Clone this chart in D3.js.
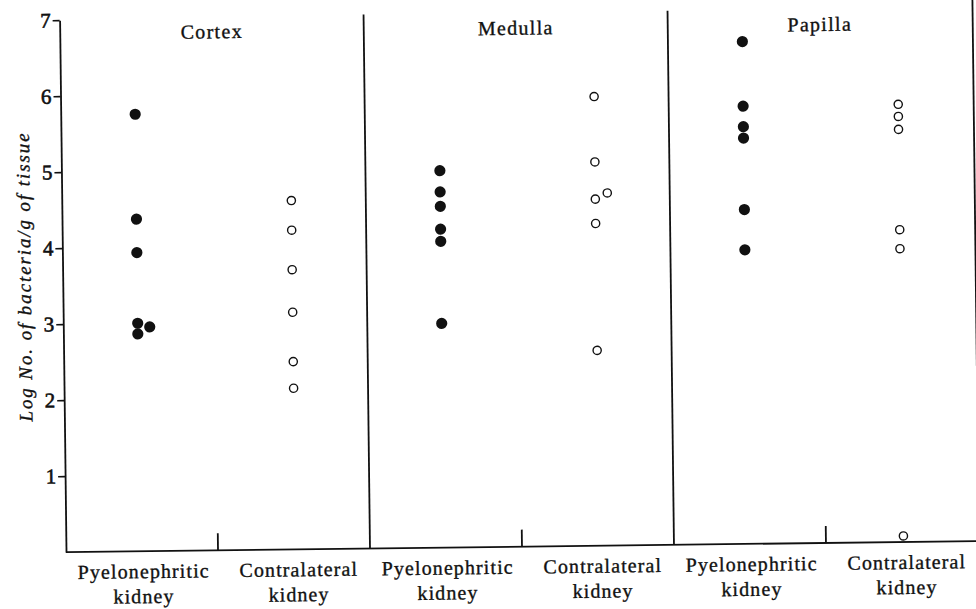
<!DOCTYPE html>
<html>
<head>
<meta charset="utf-8">
<script src="https://d3js.org/d3.v7.min.js"></script>
<style>
  body { margin: 0; background: #fff; }
  text { font-family: "Liberation Serif", "Times New Roman", serif; fill: #111; stroke: #111; stroke-width: 0.35px; }
</style>
</head>
<body>
<div id="my_dataviz"></div>
<script>
// regions / groups / ticks
var regions = ["Cortex", "Medulla", "Papilla"];
var groups = ["Pyelonephritic", "Contralateral"];
var yTicks = [1, 2, 3, 4, 5, 6, 7];

// log no. of bacteria per g of tissue
var cortexPyelo   = [5.75, 4.37, 3.93, 3.00, 2.86, 2.95];
var cortexContra  = [4.59, 4.20, 3.68, 3.12, 2.47, 2.12];
var medullaPyelo  = [4.96, 4.68, 4.49, 4.19, 4.03, 2.95];
var medullaContra = [5.91, 5.05, 4.56, 4.64, 4.24, 2.57];
var papillaPyelo  = [6.61, 5.76, 5.49, 5.34, 4.40, 3.87];
var papillaContra = [5.76, 5.60, 5.43, 4.11, 3.86, 0.08];

// points that sit beside their neighbour instead of on top of it
var cortexPyeloDodge   = [0, 0, 0, 0, 0, 1];
var medullaContraDodge = [0, 0, 0, 1, 0, 0];

var series = [
  {region: "Cortex",  group: "Pyelonephritic", values: cortexPyelo,   dodge: cortexPyeloDodge},
  {region: "Cortex",  group: "Contralateral",  values: cortexContra},
  {region: "Medulla", group: "Pyelonephritic", values: medullaPyelo},
  {region: "Medulla", group: "Contralateral",  values: medullaContra, dodge: medullaContraDodge},
  {region: "Papilla", group: "Pyelonephritic", values: papillaPyelo},
  {region: "Papilla", group: "Contralateral",  values: papillaContra}
];

var points = [];
series.forEach(function(s) {
  s.values.forEach(function(v, i) {
    points.push({region: s.region, group: s.group, value: v, dodge: s.dodge ? s.dodge[i] : 0});
  });
});

var width = 976, height = 609;

var svg = d3.select("#my_dataviz")
  .append("svg")
    .attr("width", width)
    .attr("height", height)
  // the printed page is scanned a little askew
  .append("g")
    .attr("transform", "rotate(-0.69, 490, 300)");

var x = d3.scaleBand()
  .domain(regions)
  .range([63, 975]);

var xGroup = d3.scalePoint()
  .domain(groups)
  .range([0, x.bandwidth()])
  .padding(0.48);

var y = d3.scaleLinear()
  .domain([0, 7])
  .range([547, 15]);

var ink = "#111";

// Y axis
var yAxis = svg.append("g")
  .attr("transform", "translate(" + x.range()[0] + ",0)")
  .call(d3.axisLeft(y).tickValues(yTicks).tickFormat(d3.format("d"))
    .tickSize(7).tickSizeOuter(0).tickPadding(2));
yAxis.select(".domain").attr("stroke", ink).attr("stroke-width", 1.8);
yAxis.selectAll(".tick line").attr("stroke", ink).attr("stroke-width", 1.6);
yAxis.selectAll(".tick text")
  .attr("fill", ink)
  .style("font-family", "'Liberation Serif', serif")
  .style("font-size", "21px")
  .style("stroke-width", "0.6px");

svg.append("text")
  .attr("transform", "translate(31," + 271 + ") rotate(-90)")
  .attr("text-anchor", "middle")
  .style("font-style", "italic")
  .style("font-size", "19px")
  .style("letter-spacing", "1.9px")
  .text("Log No. of bacteria/g of tissue");

// baseline
svg.append("line")
  .attr("x1", x.range()[0]).attr("x2", width + 5)
  .attr("y1", y(0)).attr("y2", y(0))
  .attr("stroke", ink).attr("stroke-width", 1.8);

// panel dividers (the last one is cut by the page edge)
var dividers = regions.slice(1).map(function(r) { return x(r); });
svg.selectAll("line.divider")
  .data(dividers)
  .enter().append("line")
    .attr("class", "divider")
    .attr("x1", function(d) { return d; }).attr("x2", function(d) { return d; })
    .attr("y1", 13).attr("y2", y(0))
    .attr("stroke", ink).attr("stroke-width", 1.8);
svg.append("line")
  .attr("x1", x.range()[1] + 1).attr("x2", x.range()[1] + 1)
  .attr("y1", 5).attr("y2", 372)
  .attr("stroke", ink).attr("stroke-width", 1.8);

// small ticks between the two groups of each panel
svg.selectAll("line.mid")
  .data(regions)
  .enter().append("line")
    .attr("class", "mid")
    .attr("x1", function(d) { return x(d) + x.bandwidth() / 2; })
    .attr("x2", function(d) { return x(d) + x.bandwidth() / 2; })
    .attr("y1", y(0)).attr("y2", y(0) - 17)
    .attr("stroke", ink).attr("stroke-width", 1.8);

// panel titles
svg.selectAll("text.title")
  .data(regions)
  .enter().append("text")
    .attr("class", "title")
    .attr("x", function(d) { return x(d) + x.bandwidth() / 2; })
    .attr("y", 35)
    .attr("text-anchor", "middle")
    .style("font-size", "20px")
    .style("letter-spacing", "1.3px")
    .text(function(d) { return d; });

// group labels under each panel
var labels = [];
regions.forEach(function(r) {
  groups.forEach(function(g) { labels.push({region: r, group: g}); });
});
var lab = svg.selectAll("text.grp")
  .data(labels)
  .enter().append("text")
    .attr("class", "grp")
    .attr("text-anchor", "middle")
    .attr("transform", function(d) {
      return "translate(" + (x(d.region) + xGroup(d.group) + 3) + ",574)";
    })
    .style("font-size", "20px")
    .style("letter-spacing", "1.1px");
lab.append("tspan").attr("x", 0).attr("y", 0).text(function(d) { return d.group; });
lab.append("tspan").attr("x", 0).attr("y", 25).text("kidney");

// points: filled for the infected kidney, open for the other one
svg.selectAll("circle.pt")
  .data(points)
  .enter().append("circle")
    .attr("class", "pt")
    .attr("cx", function(d) { return x(d.region) + xGroup(d.group) + d.dodge * 12; })
    .attr("cy", function(d) { return y(d.value); })
    .attr("r", function(d) { return d.group == "Pyelonephritic" ? 5.6 : 4.1; })
    .attr("fill", function(d) { return d.group == "Pyelonephritic" ? ink : "#fff"; })
    .attr("stroke", ink)
    .attr("stroke-width", function(d) { return d.group == "Pyelonephritic" ? 0 : 1.4; });
</script>
</body>
</html>
